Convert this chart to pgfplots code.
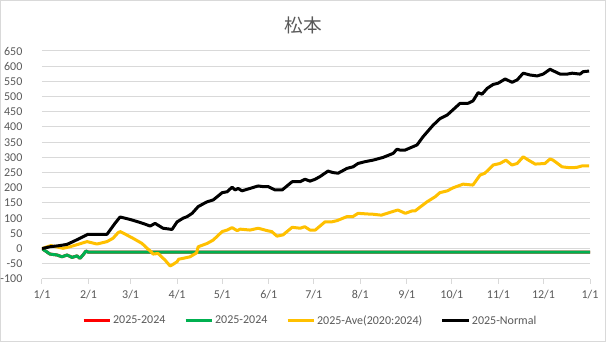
\documentclass[border=0pt]{standalone}
\usepackage{pgfplots}
\pgfplotsset{compat=1.18}
\usepackage{pgfplotstable}
\usepackage{fontspec}
\setmainfont{Carlito}
\newfontfamily\cjk{Noto Sans CJK JP}
\definecolor{txt}{HTML}{595959}
\definecolor{grd}{HTML}{D9D9D9}
\definecolor{cred}{HTML}{FF0000}
\definecolor{cgreen}{HTML}{00B050}
\definecolor{cyellow}{HTML}{FFC000}

\pgfplotstableread{
d v
0 0
5.3 -18
10 -21
13.3 -27
16.7 -21
20 -29
23.3 -24
25.3 -32
27.3 -21
29.3 -8
31 -12
365 -12
}\green

\pgfplotstableread{
d v
0 0
5.9 10
14 1
18.6 6
24 14
30 23
36.6 15
43.3 23
47.3 34
50.6 52
52 56
55.3 48
58.6 39
60.6 34
66.6 17
70 1
72.6 -10
74 -18
77.3 -16
82 -38
85.3 -57
86.6 -54
90 -43
91 -35
95.9 -30
98.6 -27
103 -14
104 6
107.3 12
110 17
114 28
120 56
123.3 61
126.6 69
130 59
132 64
138.6 61
144 67
150 59
153 56
156.5 41
160.5 45
166.6 70
172 67
175 72
178.5 61
182 61
188.5 88
193 88
196.5 92
203 105
207 105
210.5 116
216.5 114
220.5 113
226 110
233 121
237 127
242 116
246.5 124
248.5 124
256.5 154
262 171
265 184
270 190
273.8 200
280.5 212
287 209
291.8 242
295 248
300.5 275
305 280
309 291
313 275
316.5 280
320.5 302
324 291
328.5 278
335 280
338.4 295
340.4 291
346.4 269
351.7 266
356 267
359.7 272
364.4 272
}\yellow

\pgfplotstableread{
d v
0 0
5.3 6
12 10
16.7 14
20.7 23
25.3 34
30.6 47
36.6 47
43.3 47
48.6 83
52 104
58.6 96
65.3 86
70 78
72 74
75.3 83
80.6 67
86.6 63
90 88
94 100
96.6 105
100 116
104 138
107.3 147
110 154
114 160
115.3 165
120 184
123.3 187
126.6 202
128.6 193
130.6 198
133.2 190
138.6 198
143.9 206
147.2 204
150.6 204
155.2 193
160 193
166.6 220
171.9 220
175.2 228
178.5 222
181.9 228
185.2 237
190.5 255
193.9 250
197.2 248
203.2 264
207.2 269
210.5 280
215.2 286
220.5 291
227.2 300
233.8 313
236.5 327
238.5 324
241.8 324
249.8 341
253.8 368
260.5 406
265.2 428
269.8 439
278.5 478
283.8 478
287.1 486
290.5 513
293.1 508
296.5 527
300.5 540
303.8 544
308.5 558
313.1 547
316.5 555
320.5 577
325.1 571
329.8 568
333.8 574
338.4 590
340.4 585
345.1 574
349.8 574
353.1 577
358.4 574
360.4 582
364.4 584
}\black

\begin{document}
\begin{tikzpicture}
\useasboundingbox (0,0) rectangle (454.5pt,256.5pt);
\draw[grd, line width=0.75pt] (0.375pt,0.375pt) rectangle (454.125pt,256.125pt);
\node[txt, font=\cjk\fontsize{14}{16}\selectfont] at (227.25pt,237.75pt) {松本};
\begin{axis}[
  at={(31.5pt,47.25pt)}, anchor=south west,
  scale only axis, width=411pt, height=171pt,
  xmin=0, xmax=365, ymin=-100, ymax=650,
  xtick={0,31,59,90,120,151,181,212,243,273,304,334,365},
  xticklabels={1/1,2/1,3/1,4/1,5/1,6/1,7/1,8/1,9/1,10/1,11/1,12/1,1/1},
  ytick={-100,-50,...,650},
  /pgf/number format/assume math mode=true,
  axis line style={draw=none},
  ymajorgrids, major grid style={grd, line width=0.75pt},
  xtick pos=bottom, tick align=outside,
  xtick style={grd, line width=0.75pt}, major tick length=3.5pt,
  ytick style={draw=none},
  ticklabel style={font=\fontsize{9}{10}\selectfont, text=txt},
  yticklabel style={anchor=east, inner sep=0pt, xshift=-11pt},
  xticklabel style={anchor=north, inner sep=0pt, yshift=-5pt},
  legend columns=4,
  legend style={at={(0.49,-0.184)}, anchor=center, draw=none, fill=none,
     font=\fontsize{9}{10}\selectfont, text=txt,
     /tikz/every even column/.append style={column sep=12pt},
     /tikz/every odd column/.append style={column sep=-1pt}},
  legend image code/.code={\draw[#1, line width=2.25pt] (0pt,0pt) -- (20pt,0pt);},
  every axis plot/.append style={line width=2.25pt, line join=round, no marks},
]
\addplot[cred] table[x=d,y=v] {\green};
\addlegendentry{2025-2024}
\addplot[cgreen] table[x=d,y=v] {\green};
\addlegendentry{2025-2024}
\addplot[cyellow] table[x=d,y=v] {\yellow};
\addlegendentry{2025-Ave(2020:2024)}
\addplot[black] table[x=d,y=v] {\black};
\addlegendentry{2025-Normal}
\end{axis}
\end{tikzpicture}
\end{document}
